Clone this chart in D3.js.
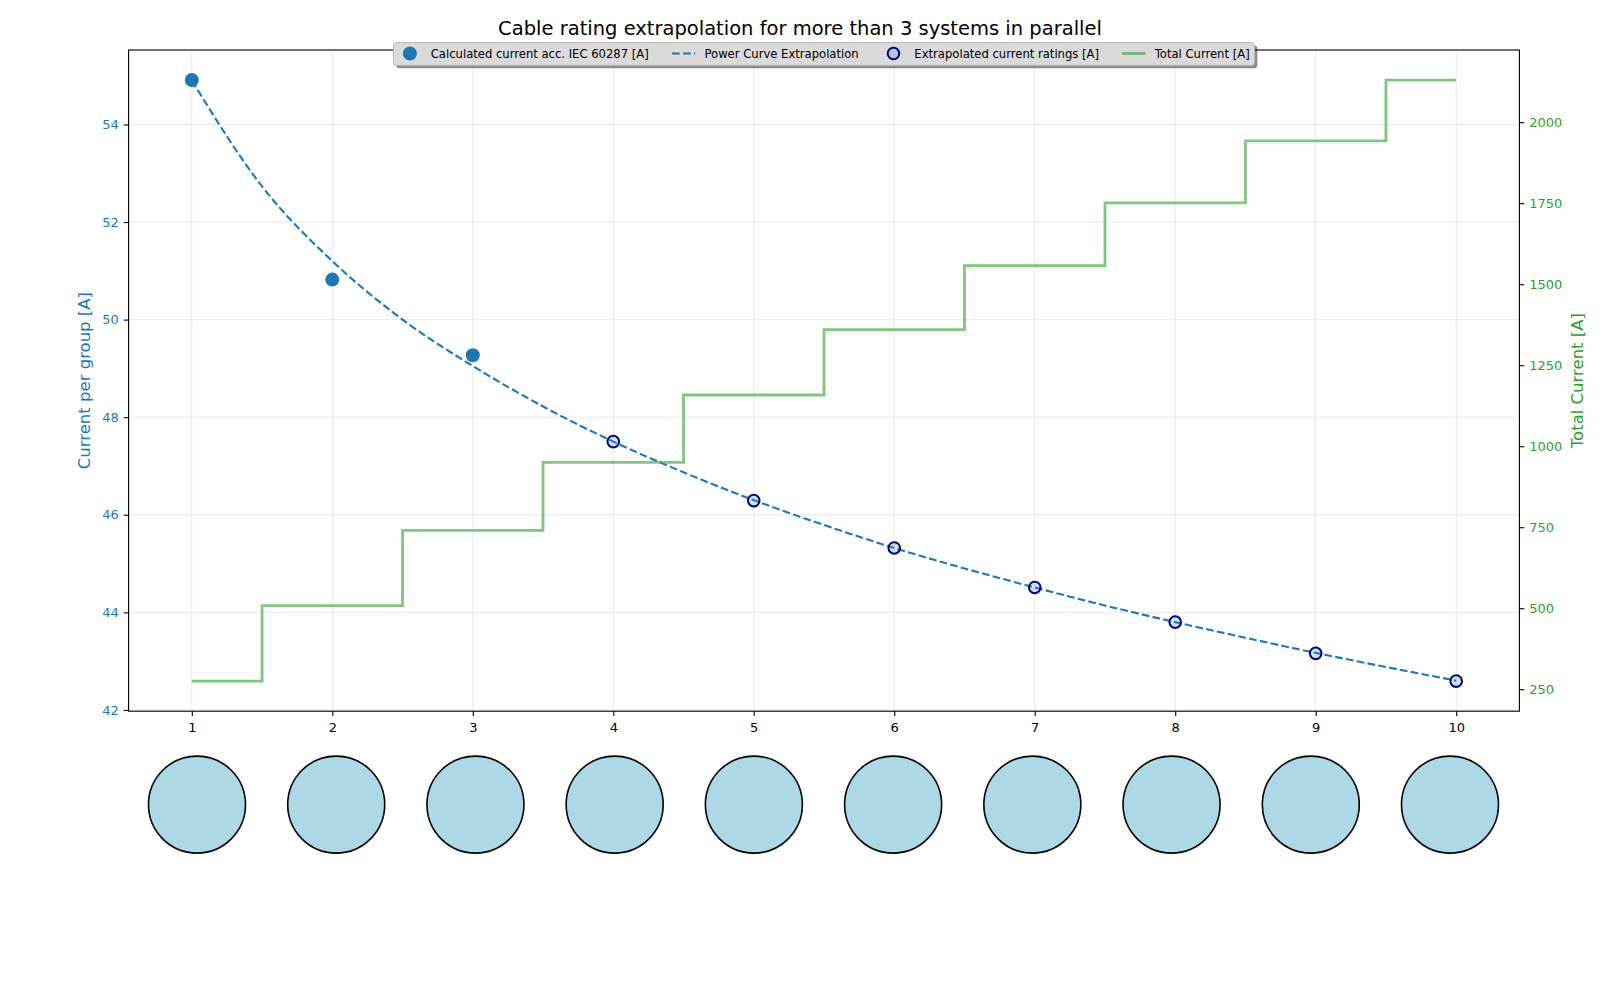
<!DOCTYPE html>
<html>
<head>
<meta charset="utf-8">
<script src="https://cdn.jsdelivr.net/npm/d3@7"></script>
<style>
  html, body { margin: 0; padding: 0; background: #fff; }
  svg { font-family: "DejaVu Sans", sans-serif; display: block; }
</style>
</head>
<body>
<svg id="chart" width="1600" height="1000"></svg>
<script>
"use strict"

// number of systems in parallel
const systems = [1, 2, 3, 4, 5, 6, 7, 8, 9, 10]
// calculated per-group current (IEC 60287)
const calcSystems = [1, 2, 3]
const calcCurrent = [54.91, 50.82, 49.27]
// extrapolated ratings
const extraSystems = [4, 5, 6, 7, 8, 9, 10]
const extraCurrent = [47.50, 46.29, 45.32, 44.51, 43.80, 43.16, 42.59]
const curveSystems = [1, 1.5, 2, 2.5, 3, 3.5, 4, 4.5, 5, 5.5, 6, 6.5, 7, 7.5, 8, 8.5, 9, 9.5, 10]
const curveCurrent = [54.90, 52.73, 51.20, 50.00, 49.05, 48.22, 47.50, 46.87, 46.30, 45.79, 45.32, 44.90, 44.51, 44.14, 43.80, 43.48, 43.17, 42.88, 42.60]
// total current
const totalCurrent = [275, 508, 740, 950, 1158, 1360, 1557, 1751, 1942, 2130]

const leftTicks = [42, 44, 46, 48, 50, 52, 54]
const rightTicks = [250, 500, 750, 1000, 1250, 1500, 1750, 2000]

const blue = '#1f77b4'
const green = '#2ca02c'

const svg = d3.select('#chart')
const plot = {left: 128.6, right: 1519.4, top: 50, bottom: 711.2}

const pad = (lo, hi) => { const p = (hi - lo) * 0.05; return [lo - p, hi + p] }

const x = d3.scaleLinear().domain(pad(d3.min(systems), d3.max(systems))).range([plot.left, plot.right])
const allCur = calcCurrent.concat(extraCurrent, curveCurrent)
const yL = d3.scaleLinear().domain(pad(d3.min(allCur), d3.max(allCur))).range([plot.bottom, plot.top])
const yR = d3.scaleLinear().domain(pad(d3.min(totalCurrent), d3.max(totalCurrent))).range([plot.bottom, plot.top])

// grid
const grid = svg.append('g').attr('stroke', '#b0b0b0').attr('stroke-opacity', 0.35).attr('stroke-width', 0.8)
grid.selectAll('line.v').data(systems).enter().append('line')
  .attr('x1', d => x(d)).attr('x2', d => x(d)).attr('y1', plot.top).attr('y2', plot.bottom)
grid.selectAll('line.h').data(leftTicks).enter().append('line')
  .attr('y1', d => yL(d)).attr('y2', d => yL(d)).attr('x1', plot.left).attr('x2', plot.right)

// power curve
svg.append('path')
  .datum(curveSystems.map((s, i) => [s, curveCurrent[i]]))
  .attr('fill', 'none').attr('stroke', blue).attr('stroke-width', 2.1)
  .attr('stroke-dasharray', '7.7,3.3')
  .attr('d', d3.line().x(d => x(d[0])).y(d => yL(d[1])).curve(d3.curveMonotoneX))

// calculated points
svg.selectAll('circle.calc').data(calcSystems).enter().append('circle')
  .attr('cx', d => x(d)).attr('cy', (d, i) => yL(calcCurrent[i])).attr('r', 7).attr('fill', blue)

// extrapolated points
svg.selectAll('circle.extra').data(extraSystems).enter().append('circle')
  .attr('cx', d => x(d)).attr('cy', (d, i) => yL(extraCurrent[i])).attr('r', 5.8)
  .attr('fill', blue).attr('fill-opacity', 0.2).attr('stroke', '#000080').attr('stroke-width', 2)

// total current step line (twin axis, on top)
svg.append('path')
  .datum(systems.map((s, i) => [s, totalCurrent[i]]))
  .attr('fill', 'none').attr('stroke', green).attr('stroke-opacity', 0.6).attr('stroke-width', 2.8)
  .attr('d', d3.line().x(d => x(d[0])).y(d => yR(d[1])).curve(d3.curveStep))

// axes
const styleAxis = (g, color) => {
  g.select('.domain').remove()
  g.selectAll('.tick line').attr('stroke', '#000').attr('stroke-width', 1.1)
  g.selectAll('.tick text').attr('fill', color).style('font-size', '13px').style('font-family', '"DejaVu Sans", sans-serif')
}
svg.append('g').attr('transform', `translate(0,${plot.bottom})`)
  .call(d3.axisBottom(x).tickValues(systems).tickSize(4.9).tickPadding(6.2).tickFormat(d3.format('d')))
  .call(g => styleAxis(g, '#000'))
svg.append('g').attr('transform', `translate(${plot.left},0)`)
  .call(d3.axisLeft(yL).tickValues(leftTicks).tickSize(4.9).tickPadding(4.9).tickFormat(d3.format('d')))
  .call(g => styleAxis(g, blue))
svg.append('g').attr('transform', `translate(${plot.right},0)`)
  .call(d3.axisRight(yR).tickValues(rightTicks).tickSize(4.9).tickPadding(4.9).tickFormat(d3.format('d')))
  .call(g => styleAxis(g, green))

svg.append('rect')
  .attr('x', plot.left).attr('y', plot.top)
  .attr('width', plot.right - plot.left).attr('height', plot.bottom - plot.top)
  .attr('fill', 'none').attr('stroke', '#000').attr('stroke-width', 1.1)

// axis labels and title
svg.append('text').attr('transform', `translate(84.7,${(plot.top + plot.bottom) / 2}) rotate(-90)`)
  .attr('text-anchor', 'middle').attr('dominant-baseline', 'central')
  .attr('fill', blue).style('font-size', '16.5px').text('Current per group [A]')
svg.append('text').attr('transform', `translate(1577.6,${(plot.top + plot.bottom) / 2}) rotate(-90)`)
  .attr('text-anchor', 'middle').attr('dominant-baseline', 'central')
  .attr('fill', green).style('font-size', '16.5px').text('Total Current [A]')
svg.append('text').attr('x', 800).attr('y', 28.5).attr('text-anchor', 'middle').attr('dominant-baseline', 'central')
  .attr('fill', '#000').style('font-size', '19.5px').text('Cable rating extrapolation for more than 3 systems in parallel')

// legend
const legendItems = [
  {label: 'Calculated current acc. IEC 60287 [A]', kind: 'dot'},
  {label: 'Power Curve Extrapolation', kind: 'dash'},
  {label: 'Extrapolated current ratings [A]', kind: 'ring'},
  {label: 'Total Current [A]', kind: 'step'},
]
const fs = 11.6
const handleW = 2 * fs, textPad = 0.8 * fs, colSpace = 2 * fs, borderPad = 0.42 * fs
const legend = svg.append('g')
const shadow = legend.append('rect')
const frame = legend.append('rect')
const ly = 53.5
let cursor = 0
const entries = legend.selectAll('g.entry').data(legendItems).enter().append('g')
entries.each(function(d) {
  const g = d3.select(this)
  const t = g.append('text').attr('x', handleW + textPad).attr('y', 0).attr('dominant-baseline', 'central')
    .style('font-size', fs + 'px').attr('fill', '#000').text(d.label)
  d.w = handleW + textPad + t.node().getComputedTextLength()
  if (d.kind === 'dot') g.append('circle').attr('cx', handleW / 2).attr('r', 7).attr('fill', blue)
  if (d.kind === 'ring') g.append('circle').attr('cx', handleW / 2).attr('r', 5.8).attr('fill', blue).attr('fill-opacity', 0.2)
    .attr('stroke', '#000080').attr('stroke-width', 2)
  if (d.kind === 'dash') g.append('line').attr('x1', 0).attr('x2', handleW).attr('stroke', blue).attr('stroke-width', 2.1)
    .attr('stroke-dasharray', '7.7,3.3')
  if (d.kind === 'step') g.append('line').attr('x1', 0).attr('x2', handleW).attr('stroke', green).attr('stroke-opacity', 0.6)
    .attr('stroke-width', 2.8)
  d.x = cursor
  cursor += d.w + colSpace
})
const innerW = cursor - colSpace
const boxW = innerW + 2 * borderPad
const boxX = (plot.left + plot.right) / 2 - boxW / 2
const boxY = 42.6, boxH = 22.8
entries.attr('transform', d => `translate(${boxX + borderPad + d.x},${ly})`)
shadow.attr('x', boxX + 2.8).attr('y', boxY + 2.8).attr('width', boxW).attr('height', boxH).attr('rx', 3)
  .attr('fill', '#000').attr('fill-opacity', 0.45)
frame.attr('x', boxX).attr('y', boxY).attr('width', boxW).attr('height', boxH).attr('rx', 3)
  .attr('fill', '#dadada').attr('stroke', '#b8b8b8').attr('stroke-width', 1)

// cable cross-sections below
const cx = d3.scaleLinear().domain([1, 10]).range([197, 1450])
svg.selectAll('circle.cable').data(systems).enter().append('circle')
  .attr('cx', d => cx(d)).attr('cy', 804.6).attr('r', 48.5)
  .attr('fill', '#add8e6').attr('stroke', '#000').attr('stroke-width', 1.6)
</script>
</body>
</html>
